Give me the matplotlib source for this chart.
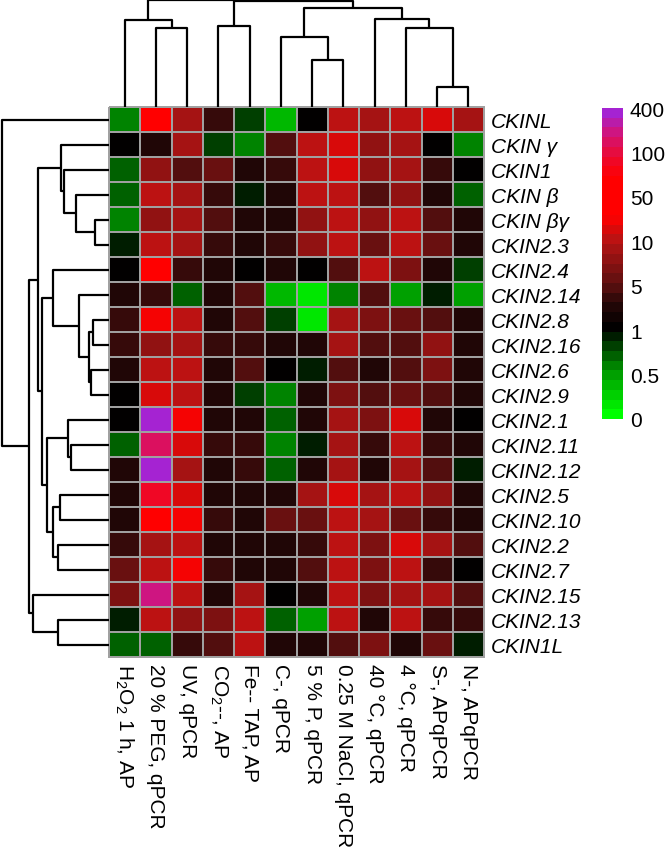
import numpy as np
import matplotlib
matplotlib.use("Agg")
import matplotlib.pyplot as plt
import matplotlib.colors as mcolors

plt.rcParams['font.family'] = 'Liberation Sans'
plt.rcParams['mathtext.fontset'] = 'custom'
plt.rcParams['mathtext.rm'] = 'Liberation Sans'
plt.rcParams['mathtext.it'] = 'Liberation Sans:italic'

genes = ["CKINL", "CKIN γ", "CKIN1", "CKIN β", "CKIN βγ", "CKIN2.3", "CKIN2.4",
         "CKIN2.14", "CKIN2.8", "CKIN2.16", "CKIN2.6", "CKIN2.9", "CKIN2.1",
         "CKIN2.11", "CKIN2.12", "CKIN2.5", "CKIN2.10", "CKIN2.2", "CKIN2.7",
         "CKIN2.15", "CKIN2.13", "CKIN1L"]

conditions = [r"H$_2$O$_2$ 1 h, AP", "20 % PEG, qPCR", "UV, qPCR", r"CO$_2$--, AP",
              "Fe-- TAP, AP", "C-, qPCR", "5 % P, qPCR", "0.25 M NaCl, qPCR",
              "40 °C, qPCR", "4 °C, qPCR", "S-, APqPCR", "N-, APqPCR"]

# fold change, rows = genes, cols = conditions
fold = np.array([
    [0.60, 50, 8.9, 4.0, 0.80, 0.33, 1.0, 9.8, 9.2, 9.8, 18.5, 8.9],
    [1.0, 2.8, 9.2, 0.78, 0.63, 5.0, 10, 18.5, 7.8, 9.5, 1.1, 0.57],
    [0.67, 7.8, 5.0, 6.1, 2.8, 3.8, 15.5, 22, 8.4, 9.2, 3.8, 1.0],
    [0.67, 10, 9.5, 3.9, 0.88, 3.1, 12, 12, 4.7, 7.8, 3.1, 0.67],
    [0.63, 7.8, 9.5, 4.7, 2.8, 3.1, 8.4, 12, 7.8, 15.5, 5.0, 3.1],
    [0.88, 10, 9.2, 3.6, 2.8, 3.9, 7.5, 15.5, 6.1, 14, 6.1, 3.1],
    [1.0, 50, 4.0, 3.1, 1.3, 2.8, 1.0, 5.0, 14, 6.7, 3.3, 0.80],
    [3.1, 4.0, 0.67, 2.8, 4.7, 0.33, 0.16, 0.58, 5.0, 0.44, 0.90, 0.46],
    [4.0, 29, 10, 3.1, 4.4, 0.80, 0.16, 8.6, 6.7, 5.6, 4.4, 3.1],
    [4.0, 7.8, 9.5, 3.6, 4.0, 2.8, 3.1, 8.9, 5.3, 4.4, 7.8, 3.1],
    [3.1, 12, 14, 2.8, 5.3, 1.0, 0.90, 4.4, 3.3, 4.7, 6.7, 3.1],
    [1.0, 20, 10, 3.1, 0.85, 0.60, 3.1, 6.7, 4.4, 6.1, 5.0, 3.3],
    [1.0, 400, 26, 3.1, 3.1, 0.75, 2.8, 9.5, 7.2, 18.5, 3.1, 1.0],
    [0.75, 145, 22, 3.9, 4.0, 0.57, 0.90, 9.2, 4.0, 9.8, 4.0, 3.1],
    [2.8, 340, 8.9, 2.8, 4.0, 0.67, 2.8, 9.2, 2.8, 9.5, 5.0, 0.88],
    [2.8, 95, 24, 2.8, 2.8, 3.1, 9.5, 18.5, 9.5, 14, 7.8, 2.8],
    [2.8, 50, 26, 3.9, 2.8, 5.6, 5.6, 9.8, 8.9, 5.6, 3.9, 2.8],
    [3.9, 9.5, 12, 2.8, 2.8, 2.8, 3.9, 9.8, 6.7, 17, 9.2, 4.7],
    [5.6, 12, 31, 3.8, 2.8, 3.1, 5.0, 10, 7.0, 9.8, 3.9, 1.0],
    [6.7, 235, 12, 2.8, 9.5, 1.0, 3.1, 10, 6.7, 9.5, 8.6, 4.7],
    [0.88, 9.8, 7.8, 7.2, 9.8, 0.75, 0.44, 15.5, 3.1, 14, 4.0, 3.8],
    [0.75, 0.73, 4.2, 5.3, 15.5, 3.1, 3.1, 4.4, 6.7, 3.1, 6.1, 0.88],
])

cbar_ticks = [0, 0.5, 1, 5, 10, 50, 100, 400]
cbar_labels = ["0", "0.5", "1", "5", "10", "50", "100", "400"]

# merges: (child a, child b, height); new node ids start after the leaves
row_links = [(4, 5, 14), (3, 22, 33), (2, 23, 45), (1, 24, 48),
             (8, 9, 16), (10, 11, 18), (26, 27, 20), (7, 28, 30), (6, 29, 55),
             (13, 14, 38), (12, 31, 41), (15, 16, 49), (17, 18, 51),
             (33, 34, 55), (32, 35, 61), (30, 36, 66), (25, 37, 70),
             (20, 21, 51), (19, 39, 75), (38, 40, 79), (0, 41, 106)]
col_links = [(10, 11, 20), (6, 7, 47), (5, 13, 70), (9, 12, 79), (8, 15, 88),
             (14, 16, 99), (1, 2, 79), (0, 18, 87), (3, 4, 81), (20, 17, 106),
             (19, 21, 107)]

W, H = 666, 854
fig = plt.figure(figsize=(W / 100, H / 100), dpi=100)


def px_axes(x0, y0, x1, y1):
    return fig.add_axes([x0 / W, 1 - y1 / H, (x1 - x0) / W, (y1 - y0) / H])


def draw_dendro(ax, links, n, side):
    pos = {i: i + 0.5 for i in range(n)}
    hgt = {i: 0 for i in range(n)}
    for k, (a, b, h) in enumerate(links):
        xs = [pos[a], pos[a], pos[b], pos[b]]
        ys = [hgt[a], h, h, hgt[b]]
        if side == 'top':
            ax.plot(xs, ys, color='black', lw=1.6, clip_on=False,
                    solid_capstyle='butt')
        else:
            ax.plot(ys, xs, color='black', lw=1.6, clip_on=False,
                    solid_capstyle='butt')
        pos[n + k] = (pos[a] + pos[b]) / 2
        hgt[n + k] = h
    ax.axis('off')


stops = [(0 / 7, (0, 255, 0)), (1 / 7, (0, 150, 0)), (2 / 7, (0, 0, 0)),
         (2.6 / 7, (40, 8, 8)), (3 / 7, (90, 15, 15)), (4 / 7, (180, 20, 20)),
         (4.6 / 7, (255, 0, 0)), (5.5 / 7, (255, 0, 0)), (6 / 7, (235, 10, 50)),
         (6.5 / 7, (210, 20, 120)), (1.0, (165, 35, 210))]
cmap = mcolors.LinearSegmentedColormap.from_list(
    'fc', [(p, np.array(c) / 255) for p, c in stops], N=32)

steps = np.arange(len(cbar_ticks), dtype=float)


def fwd(x):
    return np.interp(x, cbar_ticks, steps)


def inv(y):
    return np.interp(y, steps, cbar_ticks)


norm = mcolors.FuncNorm((fwd, inv), vmin=0, vmax=400)

# heatmap
ax = px_axes(109, 108, 484, 658)
mesh = ax.pcolormesh(np.arange(len(conditions) + 1), np.arange(len(genes) + 1), fold,
                     cmap=cmap, norm=norm, edgecolors='#a0a0a0', linewidth=1.3)
mesh.set_clip_on(False)
ax.set_xlim(0, len(conditions))
ax.set_ylim(len(genes), 0)
ax.set_xticks(np.arange(len(conditions)) + 0.5)
ax.set_xticklabels(conditions, rotation=-90, fontsize=15)
ax.yaxis.tick_right()
ax.set_yticks(np.arange(len(genes)) + 0.5)
ax.set_yticklabels(genes, fontsize=15, fontstyle='italic')
ax.tick_params(axis='x', length=0, pad=4)
ax.tick_params(axis='y', length=0, pad=5)
for s in ax.spines.values():
    s.set_visible(False)

# dendrograms
axt = px_axes(109, 0, 484, 108)
draw_dendro(axt, col_links, len(conditions), 'top')
axt.set_xlim(0, len(conditions))
axt.set_ylim(0, 108)

axl = px_axes(0, 108, 109, 658)
draw_dendro(axl, row_links, len(genes), 'left')
axl.set_ylim(len(genes), 0)
axl.set_xlim(108, 0)

# colorbar
cax = px_axes(602, 109, 623, 420)
cb = fig.colorbar(mesh, cax=cax, ticks=cbar_ticks)
cb.ax.set_yticklabels(cbar_labels)
cb.outline.set_visible(False)
cax.tick_params(length=0, pad=5, labelsize=15)

fig.savefig("out.png", dpi=100)
